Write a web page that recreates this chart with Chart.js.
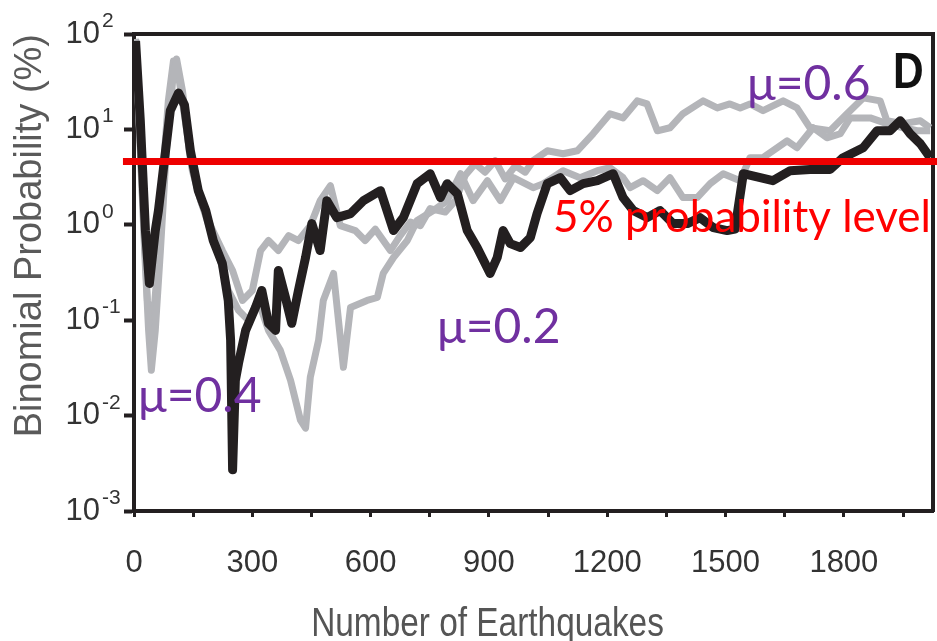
<!DOCTYPE html>
<html><head><meta charset="utf-8">
<script src="https://cdn.jsdelivr.net/npm/chart.js@4/dist/chart.umd.min.js"></script>
<style>html,body{margin:0;padding:0;background:#fff;overflow:hidden}</style>
</head><body>
<canvas id="c" width="937" height="641"></canvas>
<script>
// ---- data ----
const blackX = [4,16,29,39,54,62,80,92,113,128,143,163,182,201,224,239,245,250,257,265,283,308,324,341,359,366,384,400,417,435,451,472,489,514,549,582,625,658,683,718,751,777,794,820,845,870,903,921,936,954,980,1005,1022,1048,1081,1106,1139,1175,1215,1240,1266,1301,1334,1367,1403,1435,1469,1504,1524,1545,1620,1664,1714,1765,1798,1849,1884,1917,1943,1968,1994,2019];
const blackY = [84.5,12.3,0.87,0.243,0.87,1.41,5.97,15.7,24.1,18,5.97,2.28,1.41,0.684,0.393,0.161,0.0615,0.0027,0.0234,0.0353,0.0782,0.136,0.205,0.0927,0.0782,0.332,0.173,0.0927,0.205,0.454,1.03,0.537,1.79,1.19,1.31,1.79,2.28,0.87,1.19,2.70,3.43,1.93,2.70,2.12,0.87,0.578,0.309,0.454,0.87,0.635,0.578,0.735,1.31,2.70,3.12,2.28,2.70,2.90,3.43,1.93,1.41,1.19,1.41,1.03,1.03,1.19,0.935,0.87,0.90,3.43,2.90,3.69,3.8,3.8,5.05,6.42,9.67,9.67,12.3,9.0,7.07,5.05];

const lowX = [4,16,27,37,44,54,67,82,98,108,123,143,169,194,219,239,265,290,315,341,371,397,422,435,447,468,480,506,531,549,591,617,632,658,693,718,759,794,828,860,896,929,962,1012,1038,1088,1131,1175,1207,1240,1258,1291,1327,1359,1392,1428,1461,1494,1537,1562,1595,1656,1681,1722,1757,1791,1816,1867,1909,1950,1986,2019];
const lowY = [88.7,5.97,0.537,0.0782,0.0299,0.0782,0.537,5.97,32.2,54.8,25.4,4.70,1.79,0.87,0.423,0.205,0.127,0.0995,0.161,0.0782,0.0483,0.0234,0.00895,0.00738,0.0252,0.0615,0.161,0.309,0.0321,0.136,0.161,0.173,0.309,0.454,0.684,1.11,1.41,1.79,3.43,1.79,2.90,1.79,3.12,2.45,2.70,3.69,3.12,3.69,3.96,3.12,2.45,2.90,2.28,3.12,1.93,1.93,2.70,3.43,2.90,5.05,5.05,7.6,6.42,10.4,8.17,9.0,13.2,13.2,11.5,10.4,9.67,9.67];

const highX = [4,22,34,47,57,72,87,100,113,130,148,169,194,224,250,275,300,321,341,366,392,417,447,472,498,523,561,586,612,650,675,701,726,751,789,815,840,865,890,916,941,967,992,1012,1048,1088,1124,1164,1207,1240,1276,1301,1327,1359,1392,1443,1479,1511,1537,1562,1595,1646,1681,1714,1765,1808,1849,1892,1909,1950,1994,2019];
const highY = [88.7,1.79,0.161,0.0782,0.261,2.90,19.9,52.2,36.4,12.3,3.69,1.79,0.98,0.537,0.332,0.161,0.205,0.537,0.684,0.537,0.77,0.684,0.98,1.79,2.57,0.98,0.87,0.684,0.90,0.537,0.77,1.07,0.98,1.48,1.36,1.79,3.31,4.37,3.56,4.70,3.03,4.15,3.56,4.70,5.97,5.56,5.97,9.0,14.6,13.2,19.9,18.5,9.67,10.4,14.6,19.9,16.8,18.5,16.8,18.5,15.7,19.9,16.8,10.4,9.67,14.6,21.4,19.9,12.3,11.5,12.3,10.4];

const levelX = [-28, 2040];
const levelY = [4.6, 4.6];

const yTickValues = [0.001, 0.01, 0.1, 1, 10, 100];
const yTickExponents = ['-3', '-2', '-1', '0', '1', '2'];
const xTickStep = 150;
const xLabelStep = 300;
const xMin = 0, xMax = 2026;
const yMin = 0.001, yMax = 100;

const xTitle = 'Number of Earthquakes';
const yTitle = 'Binomial Probability (%)';
const seriesNames = ['μ=0.4', 'μ=0.2', 'μ=0.6'];
const levelName = '5% probability level';
const panelLetter = 'D';

// ---- styling ----
const AXIS = '#231f20';
const TICKTXT = '#333333';
const SANS = '"Liberation Sans", Arial, sans-serif';
const zip = (xs, ys) => xs.map((x, i) => ({x, y: ys[i]}));

const overlay = {
  id: 'overlay',
  afterDraw(chart) {
    const ctx = chart.ctx;
    const ys = chart.scales.y;
    ctx.save();
    // exponents of y tick labels
    ctx.fillStyle = TICKTXT;
    ctx.font = '21px ' + SANS;
    ctx.textAlign = 'left';
    ctx.textBaseline = 'alphabetic';
    yTickValues.forEach((v, i) => {
      ctx.fillText(yTickExponents[i], 102, ys.getPixelForValue(v) - 7);
    });
    // x axis title (condensed horizontally like the reference)
    ctx.save();
    ctx.fillStyle = '#555555';
    ctx.font = '40px ' + SANS;
    ctx.textAlign = 'center';
    ctx.translate(487.5, 636);
    ctx.scale(0.835, 1);
    ctx.fillText(xTitle, 0, 0);
    ctx.restore();
    // annotations
    ctx.textAlign = 'left';
    ctx.fillStyle = '#7030a0';
    ctx.font = '48px Lato, "Open Sans", sans-serif';
    ctx.fillText(seriesNames[2], 747, 100);
    ctx.fillText(seriesNames[1], 437, 343);
    ctx.fillText(seriesNames[0], 138, 412);
    ctx.fillStyle = '#ff0000';
    ctx.font = '44px Lato, "Open Sans", sans-serif';
    ctx.fillText(levelName, 553, 232);
    ctx.save();
    ctx.fillStyle = '#111111';
    ctx.font = 'bold 50px ' + SANS;
    ctx.translate(893, 88);
    ctx.scale(0.85, 1);
    ctx.fillText(panelLetter, 0, 0);
    ctx.restore();
    ctx.restore();
  }
};

new Chart(document.getElementById('c'), {
  type: 'line',
  data: {
    datasets: [
      {label: levelName, data: zip(levelX, levelY), borderColor: '#ee0000', borderWidth: 7, clip: false},
      {label: seriesNames[0], data: zip(blackX, blackY), borderColor: AXIS, borderWidth: 9},
      {label: seriesNames[1], data: zip(lowX, lowY), borderColor: '#b4b5b9', borderWidth: 7},
      {label: seriesNames[2], data: zip(highX, highY), borderColor: '#b4b5b9', borderWidth: 7}
    ]
  },
  options: {
    responsive: false,
    animation: false,
    devicePixelRatio: 1,
    elements: {point: {radius: 0}, line: {tension: 0, borderJoinStyle: 'round', fill: false}},
    layout: {padding: {left: 0, top: 34, right: 4, bottom: 0}},
    plugins: {legend: {display: false}, tooltip: {enabled: false}},
    scales: {
      x: {
        type: 'linear', position: 'bottom', min: xMin, max: xMax,
        afterFit(s) { s.height = 130; s.paddingLeft = 0; s.paddingRight = 0; },
        ticks: {
          stepSize: xTickStep, includeBounds: false, autoSkip: false, maxRotation: 0,
          padding: 28, color: TICKTXT, font: {family: SANS, size: 31},
          callback: v => (v % xLabelStep === 0 ? String(v) : '')
        },
        grid: {drawOnChartArea: false, drawTicks: true, tickLength: 6, tickWidth: 3, tickColor: AXIS},
        border: {display: true, color: AXIS, width: 4}
      },
      y: {
        type: 'logarithmic', position: 'left', min: yMin, max: yMax,
        afterFit(s) { s.width = 134; s.paddingTop = 0; s.paddingBottom = 0; },
        afterBuildTicks(s) { s.ticks = yTickValues.map(v => ({value: v})); },
        ticks: {padding: 24, color: TICKTXT, font: {family: SANS, size: 31}, callback: () => '10'},
        grid: {drawOnChartArea: false, drawTicks: true, tickLength: 10, tickWidth: 4, tickColor: AXIS},
        border: {display: true, color: AXIS, width: 4},
        title: {display: true, text: yTitle, align: 'end', color: '#5a5a5a',
                font: {family: SANS, size: 38}, padding: {top: 8, bottom: 0}}
      },
      x2: {
        type: 'linear', position: 'top', min: xMin, max: xMax,
        afterFit(s) { s.height = 0; },
        ticks: {display: false}, grid: {display: false},
        border: {display: true, color: AXIS, width: 4}
      },
      y2: {
        type: 'linear', position: 'right', min: 0, max: 1,
        afterFit(s) { s.width = 0; },
        ticks: {display: false}, grid: {display: false},
        border: {display: true, color: AXIS, width: 4}
      }
    }
  },
  plugins: [overlay]
});
</script>
</body></html>
